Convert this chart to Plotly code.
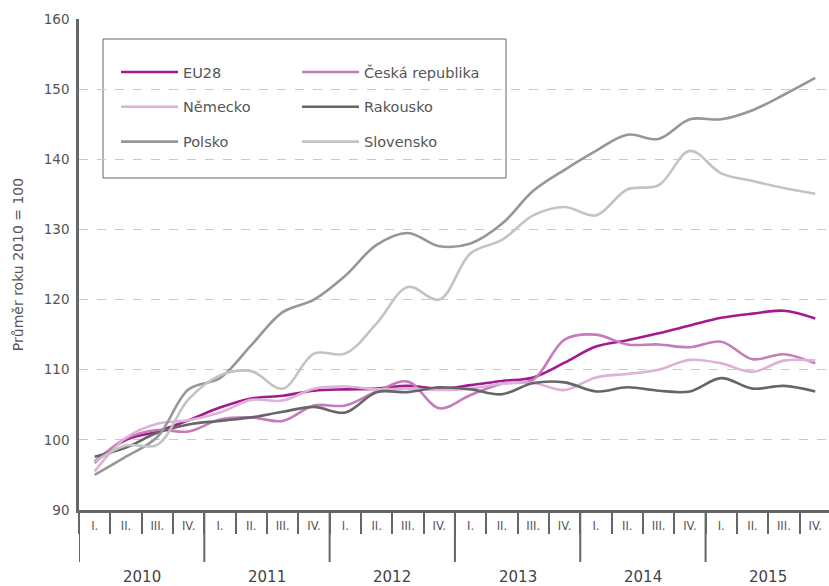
import plotly.graph_objects as go

years = ["2010", "2011", "2012", "2013", "2014", "2015"]
quarters = ["I.", "II.", "III.", "IV."]

eu28 = [96.9, 100.0, 101.2, 102.8, 104.6, 105.9, 106.3, 107.0, 107.2, 107.3, 107.7, 107.3,
        107.8, 108.4, 108.9, 111.0, 113.3, 114.2, 115.2, 116.3, 117.4, 118.0, 118.4, 117.3]
ceska = [96.7, 100.2, 101.4, 101.2, 102.9, 103.2, 102.7, 104.9, 104.9, 106.9, 108.3, 104.5,
         106.4, 108.0, 108.6, 114.3, 115.0, 113.6, 113.6, 113.2, 114.0, 111.5, 112.2, 110.9]
nemecko = [95.5, 100.3, 102.3, 102.8, 103.9, 105.7, 105.6, 107.3, 107.6, 107.2, 107.3, 107.1,
           107.3, 108.0, 108.1, 107.1, 108.9, 109.4, 110.0, 111.4, 110.9, 109.7, 111.3, 111.3]
rakousko = [97.6, 98.9, 101.0, 102.2, 102.7, 103.2, 104.0, 104.7, 103.9, 106.8, 106.8, 107.5,
            107.2, 106.5, 108.1, 108.2, 106.9, 107.5, 107.0, 106.9, 108.8, 107.3, 107.7, 106.9]
polsko = [95.0, 97.6, 100.4, 107.2, 108.8, 113.5, 118.2, 120.0, 123.4, 127.8, 129.5, 127.6,
          128.0, 130.8, 135.5, 138.5, 141.2, 143.5, 142.9, 145.7, 145.7, 147.0, 149.2, 151.6]
slovensko = [96.9, 99.2, 99.3, 105.8, 109.2, 109.8, 107.3, 112.3, 112.3, 116.6, 121.8, 120.0,
             126.6, 128.5, 132.0, 133.2, 132.0, 135.7, 136.3, 141.2, 138.0, 136.9, 135.9, 135.1]

series = [
    ("EU28", eu28, "#a3198f", "legend"),
    ("Česká republika", ceska, "#c57cba", "legend2"),
    ("Německo", nemecko, "#dcb2d7", "legend"),
    ("Rakousko", rakousko, "#666666", "legend2"),
    ("Polsko", polsko, "#979797", "legend"),
    ("Slovensko", slovensko, "#c3c3c3", "legend2"),
]

n = len(years) * len(quarters)
xs = list(range(n))
qlabels = [quarters[i % 4] for i in xs]

FONT = "'DejaVu Sans', sans-serif"
TXT = "#555555"
AX = "#666666"

fig = go.Figure()
for name, vals, color, lg in series:
    fig.add_trace(go.Scatter(
        x=xs, y=vals, mode="lines", name=name,
        line=dict(color=color, width=2.6, shape="spline", smoothing=1.0),
        legend=lg, legendgroup=name, showlegend=True, hoverinfo="skip",
    ))

plot_h = 586 - 19 - 76

shapes = []
for k in range(len(years) + 1):
    xb = k * 4 - 0.5
    shapes.append(dict(type="line", xref="x", yref="paper", x0=xb, x1=xb,
                       y0=0, y1=-52 / plot_h, line=dict(color=AX, width=2)))
shapes.append(dict(type="rect", xref="paper", yref="paper",
                   x0=(103 - 79) / 750, x1=(506 - 79) / 750,
                   y0=(510 - 178) / plot_h, y1=(510 - 39) / plot_h,
                   line=dict(color=AX, width=1), fillcolor="white", layer="below"))

annotations = []
for k, yr in enumerate(years):
    annotations.append(dict(x=k * 4 + 1.5, xref="x", y=-67 / plot_h, yref="paper",
                            text=yr, showarrow=False, yanchor="middle",
                            font=dict(size=15, color="#444444", family=FONT)))

legend_common = dict(
    bgcolor="rgba(0,0,0,0)", borderwidth=0, orientation="v",
    font=dict(size=14.5, color=TXT, family=FONT),
    tracegroupgap=13, yanchor="top", xanchor="left",
    traceorder="grouped", itemwidth=57,
)

fig.update_layout(
    width=829, height=586,
    margin=dict(l=79, r=0, t=19, b=76),
    paper_bgcolor="white", plot_bgcolor="white",
    font=dict(family=FONT, color=TXT),
    showlegend=True,
    legend=dict(x=(116 - 79) / 750, y=(510 - 56) / plot_h, **legend_common),
    legend2=dict(x=(297 - 79) / 750, y=(510 - 56) / plot_h, **legend_common),
    shapes=shapes,
    annotations=annotations,
    xaxis=dict(
        range=[-0.5, 23.44], showgrid=False, zeroline=False,
        showline=True, linecolor=AX, linewidth=2.5,
        tickmode="array", tickvals=xs, ticktext=qlabels,
        ticks="outside", ticklen=3, tickcolor="rgba(0,0,0,0)",
        tickfont=dict(size=11.5, color=TXT, family=FONT),
        minor=dict(tickmode="array", tickvals=[i - 0.5 for i in range(n + 1)],
                   ticks="outside", ticklen=21, tickwidth=2, tickcolor=AX, showgrid=False),
    ),
    yaxis=dict(
        range=[90, 160], tickmode="array", tickvals=list(range(90, 161, 10)),
        showgrid=True, gridcolor="#c8c8c8", griddash="dash", gridwidth=1,
        zeroline=False, showline=True, linecolor=AX, linewidth=2.5,
        ticks="", ticklabelstandoff=4,
        tickfont=dict(size=13.5, color=TXT, family=FONT),
        title=dict(text="Průměr roku 2010 = 100", standoff=17,
                   font=dict(size=14, color=TXT, family=FONT)),
    ),
)

fig.write_html("out.html", config={"displayModeBar": False},
               post_script="document.body.style.margin='0';document.body.style.overflow='hidden';")
